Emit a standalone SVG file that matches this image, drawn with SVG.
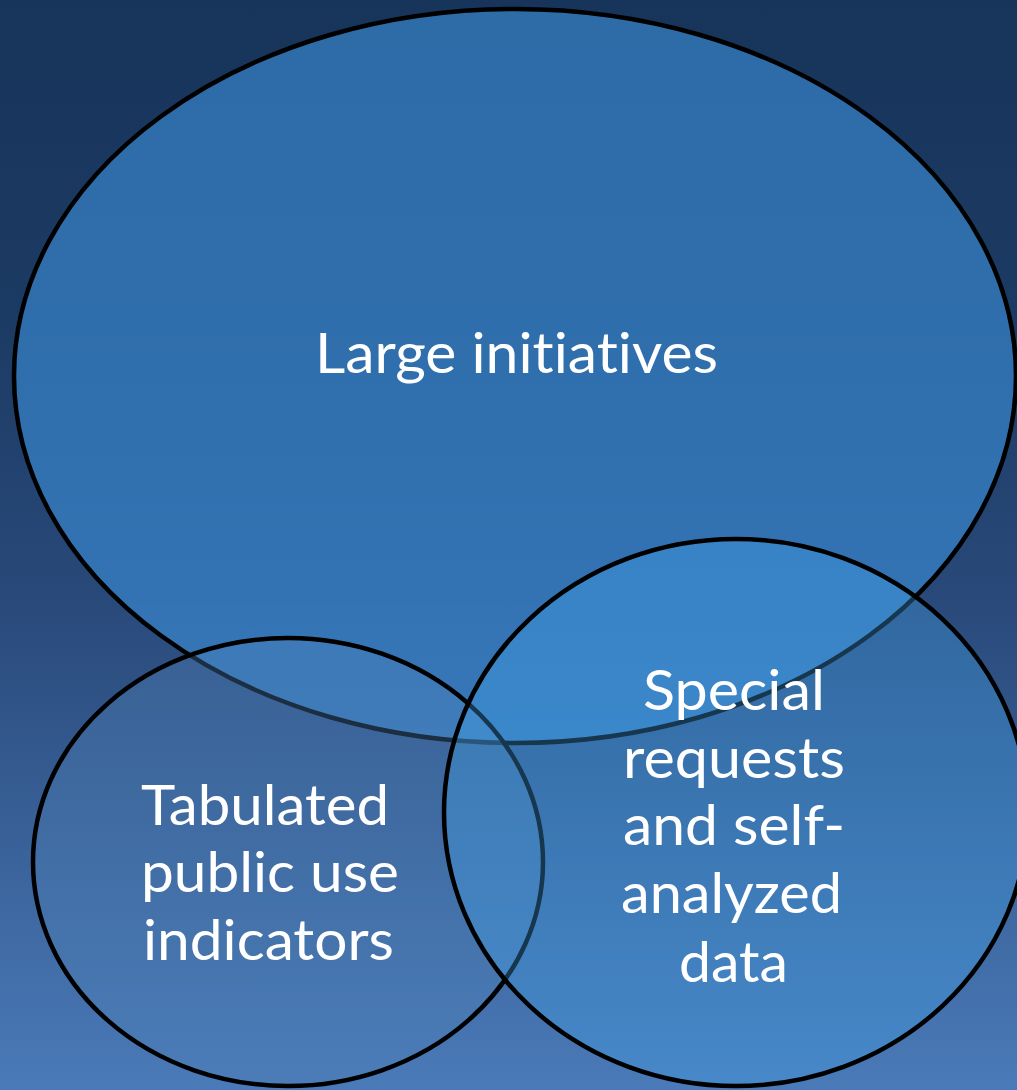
<svg xmlns="http://www.w3.org/2000/svg" width="1017" height="1090" viewBox="0 0 1017 1090">
  <defs>
    <linearGradient id="bg" x1="0" y1="0" x2="0" y2="1">
      <stop offset="0" stop-color="#17345a"/>
      <stop offset="0.3" stop-color="#1c3b64"/>
      <stop offset="0.55" stop-color="#29497a"/>
      <stop offset="1" stop-color="#4a7ab8"/>
    </linearGradient>
    <style>
      .shape { stroke: #000000; stroke-width: 4.5; }
      .big { fill: rgb(58,138,210); fill-opacity: 0.65; }
      .tab { fill: rgb(80,131,186); fill-opacity: 0.35; }
      .spc { fill: rgb(68,167,236); fill-opacity: 0.33; }
      .lbl { font-family: Lato, "Open Sans", "Liberation Sans", sans-serif; font-size: 57px; fill: #ffffff; font-variant-ligatures: none; font-feature-settings: "liga" 0, "clig" 0; }
    </style>
  </defs>
  <rect x="0" y="0" width="1017" height="1090" fill="url(#bg)"/>
  <g id="node-large">
    <ellipse class="shape big" cx="515" cy="376" rx="501" ry="367"/>
    <text class="lbl" x="315" y="373" textLength="403" lengthAdjust="spacingAndGlyphs">Large initiatives</text>
  </g>
  <g id="node-tabulated">
    <ellipse class="shape tab" cx="288" cy="862" rx="255" ry="224"/>
    <text class="lbl" x="141" y="825" textLength="248" lengthAdjust="spacingAndGlyphs">Tabulated</text>
    <text class="lbl" x="141" y="892" textLength="258" lengthAdjust="spacingAndGlyphs">public use</text>
    <text class="lbl" x="143" y="960" textLength="251" lengthAdjust="spacingAndGlyphs">indicators</text>
  </g>
  <g id="node-special">
    <ellipse class="shape spc" cx="736" cy="812.5" rx="292" ry="273.5"/>
    <text class="lbl" x="643" y="710" textLength="182" lengthAdjust="spacingAndGlyphs">Special</text>
    <text class="lbl" x="623" y="778" textLength="222" lengthAdjust="spacingAndGlyphs">requests</text>
    <text class="lbl" x="623" y="845" textLength="222" lengthAdjust="spacingAndGlyphs">and self-</text>
    <text class="lbl" x="621" y="913" textLength="221" lengthAdjust="spacingAndGlyphs">analyzed</text>
    <text class="lbl" x="679" y="982" textLength="109" lengthAdjust="spacingAndGlyphs">data</text>
  </g>
  <g id="connectors"/>
</svg>
